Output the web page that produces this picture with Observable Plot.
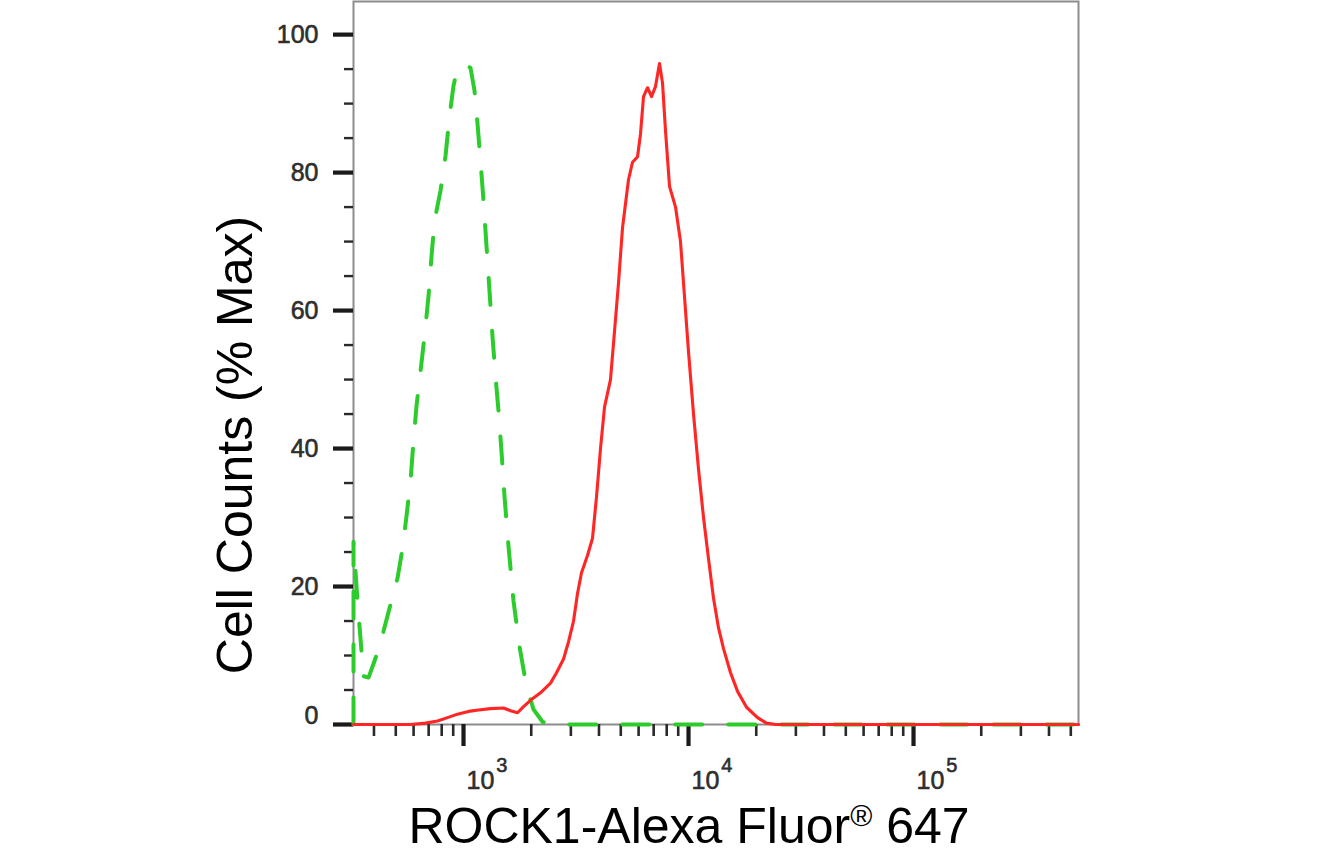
<!DOCTYPE html>
<html><head><meta charset="utf-8">
<script src="https://cdn.jsdelivr.net/npm/d3@7"></script>
<script src="https://cdn.jsdelivr.net/npm/@observablehq/plot@0.6"></script>
<style>
html,body{margin:0;padding:0;background:#fff;overflow:hidden;}
</style></head><body><div id="chart"></div>
<script>
// Isotype control (green dashed)
const isoX = [324.4, 324.4, 338.0, 359.4, 378.2, 406.3, 441.0, 473.7, 508.9, 535.6, 558.0, 581.4, 599.5, 618.3, 644.1, 671.0, 699.0, 720.9, 743.4, 790.4, 831.8, 866.6, 902.9, 940.4, 1010, 1074, 1119, 1154, 1190, 1227, 1265, 1305, 1345, 1387, 1431, 1475, 1521, 1585, 1668, 1774, 1905, 2047, 2244, 2436, 5000, 20000, 100000, 541000];
const isoY = [0, 26.5, 17.9, 7.0, 6.8, 9.6, 13.5, 17.4, 21.2, 25.5, 30.2, 35.3, 41.1, 46.2, 51.2, 56.3, 62.1, 67.9, 73.0, 77.4, 82.4, 88.2, 92.6, 95.2, 95.6, 95.2, 91.9, 87.1, 81.7, 75.9, 69.4, 62.8, 56.3, 50.5, 45.4, 39.6, 33.1, 25.8, 17.9, 11.3, 5.5, 2.2, 0.4, 0, 0, 0, 0, 0];
// ROCK1 (red solid)
const rockX = [324.4, 581.4, 678, 766.3, 849, 940.4, 1052, 1166, 1318, 1506, 1618, 1738, 1848, 1985, 2198, 2436, 2590, 2783, 2929, 3083, 3211, 3345, 3556, 3744, 3900, 4063, 4233, 4500, 4689, 4885, 5089, 5412, 5638, 5934, 6118, 6310, 6574, 6848, 7135, 7431, 7663, 7904, 8234, 8755, 9213, 9599, 10000, 10525, 11078, 11659, 12271, 12915, 13594, 14307, 15374, 16516, 18105, 20262, 22214, 24360, 60000, 150000, 541000];
const rockY = [0, 0, 0.2, 0.5, 1.0, 1.5, 1.9, 2.1, 2.3, 2.4, 2.0, 1.7, 2.6, 3.5, 4.6, 6.0, 7.5, 9.5, 12, 15, 19, 22, 24.5, 27, 33, 40, 46, 50, 57, 64, 72, 79, 81.5, 82.3, 85.6, 91, 92.3, 91, 92.5, 95.8, 93, 86, 78, 75, 70, 62, 54, 45, 37, 30, 24, 18.3, 14, 11, 7.5, 4.8, 2.5, 1.0, 0.2, 0, 0, 0, 0];

const yMajor = [0, 20, 40, 60, 80, 100];
const yMinor = [5, 10, 15, 25, 30, 35, 45, 50, 55, 65, 70, 75, 85, 90, 95];
const xMajor = [1000, 10000, 100000];
const xMinor = [400, 500, 600, 700, 800, 900, 2000, 3000, 4000, 5000, 6000, 7000, 8000, 9000, 20000, 30000, 40000, 50000, 60000, 70000, 80000, 90000, 200000, 300000, 400000, 500000];
const xTickLabels = ["10^3", "10^4", "10^5"];
const xTitle = ["ROCK1-Alexa Fluor", "®", " 647"];
const yTitle = "Cell Counts (% Max)";

const iso = isoX.map((x, i) => ({x, y: isoY[i]}));
const rock = rockX.map((x, i) => ({x, y: rockY[i]}));

const tickFont = "'Liberation Sans',Arial,sans-serif";
const tickText = {fontSize: 25, fontFamily: tickFont, fill: "#2e2e2e", stroke: "#2e2e2e", strokeWidth: 0.6, lineAnchor: "middle"};

const plot = Plot.plot({
  width: 1338, height: 854,
  marginLeft: 353, marginRight: 260, marginTop: 1, marginBottom: 130,
  x: {type: "log", domain: [324.4, 541000]},
  y: {domain: [0, 104.8]},
  style: {background: "#fff", overflow: "visible"},
  marks: [
    Plot.frame({stroke: "#8c8c8c", strokeWidth: 2}),
    Plot.axisY(yMinor, {tickSize: 9, strokeWidth: 2.4, stroke: "#2a2a2a", tickFormat: () => "", label: null}),
    Plot.axisY(yMajor, {tickSize: 20, strokeWidth: 4.2, stroke: "#1a1a1a", tickFormat: () => "", label: null}),
    Plot.axisX(xMinor, {tickSize: 12, strokeWidth: 2.6, stroke: "#2a2a2a", tickFormat: () => "", label: null}),
    Plot.axisX(xMajor, {tickSize: 22, strokeWidth: 4.2, stroke: "#1a1a1a", tickFormat: () => "", label: null}),
    Plot.text(yMajor.filter(d => d > 0), {y: d => d, text: d => String(d), frameAnchor: "left", dx: -35, textAnchor: "end", ...tickText}),
    Plot.text(yMajor.filter(d => d === 0), {y: d => d, text: d => String(d), frameAnchor: "left", dx: -35, dy: -9, textAnchor: "end", ...tickText}),
    Plot.text(xMajor, {x: d => d, text: (d, i) => xTickLabels[i], frameAnchor: "bottom", dx: 3, dy: 56, textAnchor: "start", ...tickText}),
    Plot.line(iso, {x: "x", y: "y", stroke: "#2bcc2b", strokeWidth: 4, strokeDasharray: "27,26"}),
    Plot.line(rock, {x: "x", y: "y", stroke: "#ff2626", strokeWidth: 3.1})
  ]
});

// superscript exponents on x tick labels
plot.querySelectorAll("text").forEach(el => {
  const t = el.textContent;
  if (t.includes("^")) {
    const [base, exp] = t.split("^");
    el.textContent = base;
    const ts = document.createElementNS("http://www.w3.org/2000/svg", "tspan");
    ts.setAttribute("dx", "2");
    ts.setAttribute("dy", "-17");
    ts.setAttribute("font-size", "20");
    ts.textContent = exp;
    el.appendChild(ts);
  }
});

const svg = d3.select(plot);
svg.append("text")
  .attr("transform", "translate(252,445) rotate(-90)")
  .attr("text-anchor", "middle")
  .attr("font-family", "'Liberation Sans',Arial,sans-serif")
  .attr("font-size", 50)
  .attr("fill", "#000")
  .text(yTitle);
const xt = svg.append("text")
  .attr("x", 689).attr("y", 843)
  .attr("text-anchor", "middle")
  .attr("font-family", "'Liberation Sans',Arial,sans-serif")
  .attr("font-size", 50)
  .attr("fill", "#000");
xt.append("tspan").text(xTitle[0]);
xt.append("tspan").attr("font-size", 30).attr("dy", -17).text(xTitle[1]);
xt.append("tspan").attr("dy", 17).text(xTitle[2]);

document.getElementById("chart").appendChild(plot);
</script></body></html>
